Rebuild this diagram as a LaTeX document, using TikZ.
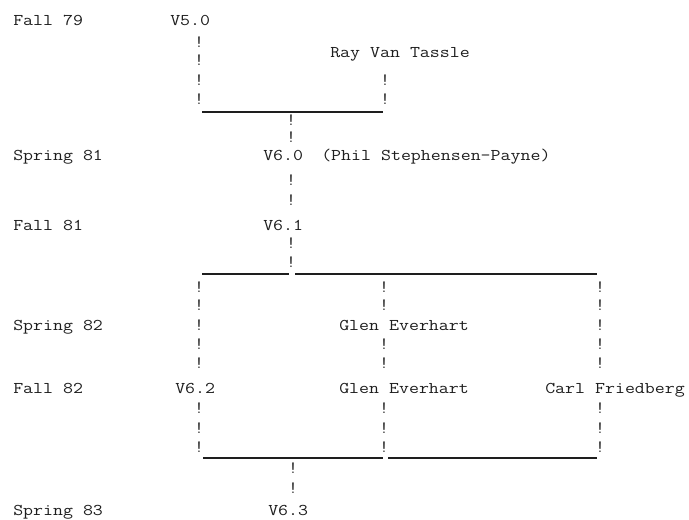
\documentclass[tikz,border=0pt]{standalone}
\usepackage{fontspec}
\definecolor{ink}{HTML}{1E1E1E}
\newcommand\twtxt[1]{\scalebox{1.18}[1]{#1}}
\begin{document}
\begin{tikzpicture}[x=0.75pt,y=-0.75pt,
  txt/.style={anchor=base west, inner sep=0pt, text=ink,
    font=\ttfamily\fontsize{12.3}{15}\selectfont\addfontfeature{FakeBold=0.7}},
  bang/.style={anchor=center, inner sep=0pt, text=ink,
    font=\ttfamily\fontsize{13}{15}\selectfont\addfontfeature{FakeBold=0.9}},
  rule/.style={draw=ink, line width=0.8pt}]
\fill[white] (0,0) rectangle (689,519);
\useasboundingbox (0,0) rectangle (689,519);

% time labels
\node[txt] (t1) at (13,25)  {\twtxt{Fall 79}};
\node[txt] (t2) at (13,160) {\twtxt{Spring 81}};
\node[txt] (t3) at (13,230) {\twtxt{Fall 81}};
\node[txt] (t4) at (13,330) {\twtxt{Spring 82}};
\node[txt] (t5) at (13,393) {\twtxt{Fall 82}};
\node[txt] (t6) at (13,515) {\twtxt{Spring 83}};

% versions and people
\node[txt] (v50) at (170,25)  {\twtxt{V5.0}};
\node[txt] (ray) at (330,57)  {\twtxt{Ray Van Tassle}};
\node[txt] (v60) at (263,160) {\twtxt{V6.0}};
\node[txt] (phil) at (321,160) {\twtxt{(Phil Stephensen-Payne)}};
\node[txt] (v61) at (263,230) {\twtxt{V6.1}};
\node[txt] (glen1) at (339,330) {\twtxt{Glen Everhart}};
\node[txt] (v62) at (175,393) {\twtxt{V6.2}};
\node[txt] (glen2) at (339,393) {\twtxt{Glen Everhart}};
\node[txt] (carl) at (545,393) {\twtxt{Carl Friedberg}};
\node[txt] (v63) at (268,515) {\twtxt{V6.3}};

% typed "!" connectors
\foreach \y [count=\i] in {42,60,80,99} \node[bang] (a\i) at (199,\y) {!};
\foreach \y [count=\i] in {80,99} \node[bang] (b\i) at (385,\y) {!};
\foreach \y [count=\i] in {120,137,180,200,243,262} \node[bang] (c\i) at (291,\y) {!};
\foreach \y [count=\i] in {287,305,325,344,363,408,428,447} \node[bang] (d\i) at (199,\y) {!};
\foreach \y [count=\i] in {287,305,344,363,408,428,447} \node[bang] (e\i) at (384,\y) {!};
\foreach \y [count=\i] in {287,305,325,344,363,408,428,447} \node[bang] (f\i) at (600,\y) {!};
\foreach \y [count=\i] in {468,488} \node[bang] (g\i) at (293,\y) {!};

% typed underscore rules
\coordinate (h1a) at (202,112);
\coordinate (h1b) at (383,112);
\draw[rule] (h1a) -- (h1b);
\coordinate (h2a) at (202,274);
\coordinate (h2b) at (289,274);
\coordinate (h2c) at (295,274);
\coordinate (h2d) at (597,274);
\draw[rule] (h2a) -- (h2b);
\draw[rule] (h2c) -- (h2d);
\coordinate (h3a) at (203,458);
\coordinate (h3b) at (383,458);
\coordinate (h3c) at (388,458);
\coordinate (h3d) at (597,458);
\draw[rule] (h3a) -- (h3b);
\draw[rule] (h3c) -- (h3d);
\end{tikzpicture}
\end{document}
